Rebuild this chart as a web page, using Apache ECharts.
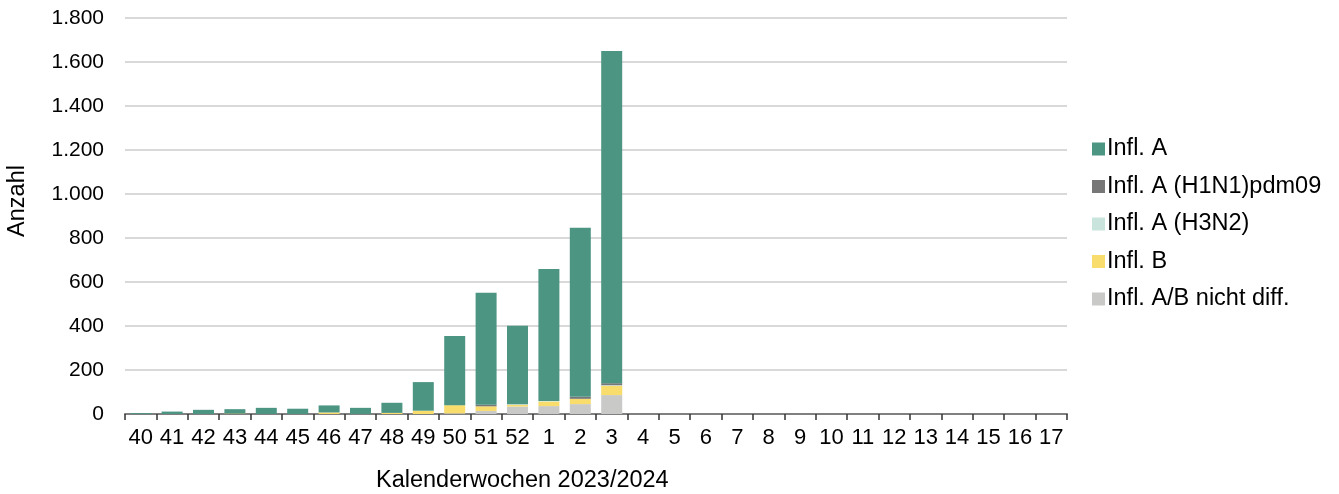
<!DOCTYPE html>
<html><head><meta charset="utf-8">
<script src="https://cdn.jsdelivr.net/npm/echarts@6/dist/echarts.min.js"></script>
<style>html,body{margin:0;padding:0;background:#fff}#c{width:1339px;height:494px}</style>
</head><body><div id="c"></div>
<script>
const weeks = ['40','41','42','43','44','45','46','47','48','49','50','51','52','1','2','3','4','5','6','7','8','9','10','11','12','13','14','15','16','17'];
const seriesNames = ['Infl. A','Infl. A (H1N1)pdm09','Infl. A (H3N2)','Infl. B','Infl. A/B nicht diff.'];
const inflA      = [4,11,19,20,28,24,32,28,46,130,315,509,357,600,769,1510,null,null,null,null,null,null,null,null,null,null,null,null,null,null];
const inflH1N1   = [0,0,0,0,0,0,0,0,0,0,0,7,0,0,9,9,null,null,null,null,null,null,null,null,null,null,null,null,null,null];
const inflH3N2   = [0,0,0,0,0,0,0,0,0,0,0,0,2,2,0,3,null,null,null,null,null,null,null,null,null,null,null,null,null,null];
const inflB      = [0,0,0,2,0,0,7,0,5,15,37,21,8,21,24,42,null,null,null,null,null,null,null,null,null,null,null,null,null,null];
const inflNdiff  = [0,0,0,0,0,0,0,0,0,0,3,14,34,36,45,86,null,null,null,null,null,null,null,null,null,null,null,null,null,null];
const yTicks = [0,200,400,600,800,1000,1200,1400,1600,1800];

const colors = {
  'Infl. A':'#4d9583',
  'Infl. A (H1N1)pdm09':'#777777',
  'Infl. A (H3N2)':'#c8e4dc',
  'Infl. B':'#f8dc6c',
  'Infl. A/B nicht diff.':'#c9c9c7'
};
const F = 'Liberation Sans, Arial, sans-serif';
function mk(name, data){
  return {name, type:'bar', stack:'t', data, barWidth:21,
    itemStyle:{color:colors[name]}, emphasis:{disabled:true}};
}
const chart = echarts.init(document.getElementById('c'), null, {renderer:'canvas'});
chart.setOption({
  animation:false,
  textStyle:{fontFamily:F},
  grid:{left:125,right:272,top:18,bottom:80,containLabel:false},
  legend:{
    orient:'vertical', left:1087, top:132, itemWidth:13, itemHeight:13, itemGap:13.5,
    icon:'rect',
    data:seriesNames,
    textStyle:{fontFamily:F,fontSize:23.5,color:'#000',padding:[0,0,0,-3]},
    selectedMode:false
  },
  xAxis:{
    type:'category', data:weeks, boundaryGap:true,
    axisLine:{lineStyle:{color:'#808080',width:2}},
    axisTick:{show:true,alignWithLabel:false,length:6,lineStyle:{color:'#333',width:1.5}},
    axisLabel:{fontFamily:F,fontSize:22,color:'#000',margin:13,interval:0}
  },
  yAxis:{
    type:'value', min:yTicks[0], max:yTicks[yTicks.length-1], interval:200,
    axisLine:{show:false}, axisTick:{show:false},
    splitLine:{lineStyle:{color:'#d9d9d9',width:2}},
    axisLabel:{fontFamily:F,fontSize:21,color:'#000',margin:21,
      formatter:v=>v.toLocaleString('de-DE')}
  },
  graphic:[
    {type:'text',left:376,top:469,style:{text:'Kalenderwochen 2023/2024',font:'23.5px '+F,fill:'#000'}},
    {type:'text',x:18,y:201,rotation:Math.PI/2,style:{text:'Anzahl',font:'23.5px '+F,fill:'#000',align:'center',verticalAlign:'middle'}}
  ],
  series:[
    mk('Infl. A/B nicht diff.', inflNdiff),
    mk('Infl. B', inflB),
    mk('Infl. A (H3N2)', inflH3N2),
    mk('Infl. A (H1N1)pdm09', inflH1N1),
    mk('Infl. A', inflA)
  ]
});
</script></body></html>
